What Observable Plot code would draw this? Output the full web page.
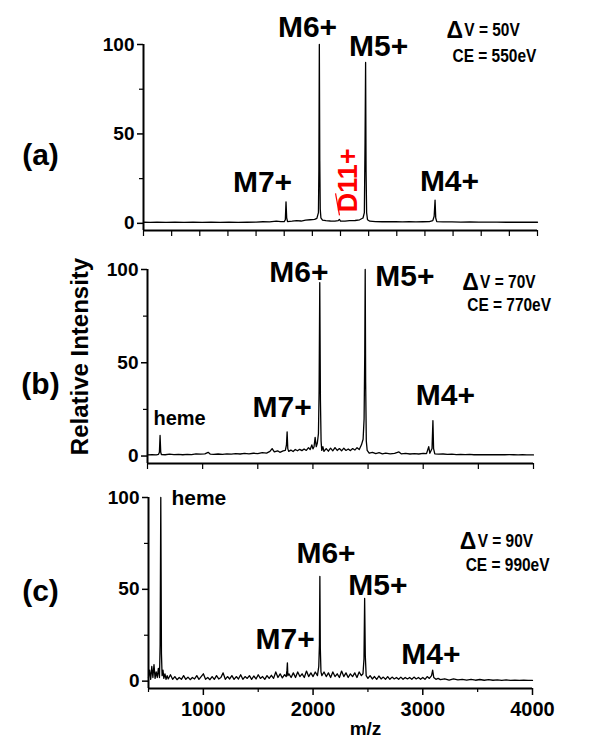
<!DOCTYPE html>
<html><head><meta charset="utf-8">
<script src="https://cdn.jsdelivr.net/npm/d3@7"></script>
<script src="https://cdn.jsdelivr.net/npm/@observablehq/plot@0.6"></script>
<style>
body{margin:0;background:#fff;}
#wrap{position:relative;width:600px;height:740px;overflow:hidden;background:#fff;}
</style></head><body><div id="wrap"></div>
<script>
// ---------- spectrum (a) ----------
const mzA=[500,560,620,700,780,860,940,1020,1100,1180,1260,1340,1420,1500,1560,1620,1680,1720,1750,1760,1766,1772,1780,1820,1860,1900,1940,1980,2020,2040,2054,2058,2062,2066,2070,2076,2090,2120,2160,2200,2230,2240,2250,2290,2330,2380,2420,2450,2462,2468,2473,2477,2482,2490,2510,2560,2620,2680,2740,2800,2860,2920,2980,3040,3070,3082,3090,3096,3105,3160,3240,3320,3400,3480,3560,3640,3720,3800,3880,3960,4000];
const intA=[0.6,0.5,0.7,0.5,0.6,0.5,0.7,0.5,0.6,0.5,0.7,0.5,0.6,0.7,0.9,0.8,1.2,1.0,1.0,2,12,3,1.0,1.2,1.5,1.3,1.8,2.0,2.2,2.8,6,30,100,35,8,3,1.8,1.5,1.3,1.2,1.5,2.2,1.3,1.2,1.5,1.6,2.0,3,6,45,90,30,6,2,1.2,1.0,0.9,0.9,0.9,0.8,0.9,0.8,0.9,1.0,1.5,4,13,3,1.0,0.8,0.8,0.7,0.8,0.7,0.7,0.7,0.6,0.6,0.6,0.6,0.6];
// ---------- spectrum (b) ----------
const mzB=[500,540,580,600,608,614,620,626,660,700,740,780,820,860,900,940,980,1020,1050,1070,1100,1140,1180,1220,1260,1300,1340,1380,1420,1460,1500,1540,1580,1610,1630,1650,1680,1700,1730,1750,1760,1766,1772,1780,1800,1820,1840,1860,1880,1900,1920,1940,1960,1975,1990,2000,2010,2020,2030,2040,2050,2056,2062,2068,2074,2080,2090,2100,2120,2140,2160,2180,2200,2220,2240,2260,2280,2300,2320,2340,2360,2380,2400,2420,2440,2455,2464,2470,2474,2478,2484,2492,2510,2540,2570,2600,2630,2660,2700,2740,2780,2800,2840,2880,2920,2960,3000,3030,3050,3060,3080,3088,3094,3105,3140,3180,3220,3260,3300,3340,3380,3420,3460,3500,3540,3580,3620,3660,3700,3740,3780,3820,3860,3900,3940,3980,4000];
const intB=[0.6,0.8,0.6,0.9,2,11,2,0.8,0.7,1.0,0.8,0.9,0.7,0.9,0.8,1.2,1.0,1.2,2.0,1.0,0.9,1.1,0.9,1.2,1.0,1.3,1.1,1.4,1.2,1.5,1.3,1.8,1.6,2.5,4,2.2,2.8,2.0,2.8,3,6,13,4,2.5,3.2,2.4,3.5,2.8,3.6,2.9,3.8,3.0,4.5,3.5,6,3.8,5,10,5,7,12,35,93,30,8,3,5,2.5,4,2.6,4.2,2.8,4.5,3.0,4.0,2.8,4.2,3.0,3.8,2.9,4.0,3.2,4.5,3.5,6,9,20,55,100,40,8,3,1.5,2.0,1.3,1.8,1.2,1.6,1.2,1.4,2.2,1.2,1.4,1.1,1.3,1.1,1.4,1.3,5,1.5,4,19,4,1.2,1.0,1.1,0.9,1.0,0.8,0.9,0.8,0.9,0.7,0.8,0.7,0.8,0.7,0.8,0.7,0.7,0.8,0.7,0.6,0.7,0.6,0.6,0.6];
// ---------- spectrum (c) ----------
const mzC=[500,510,520,530,540,550,560,570,580,590,600,606,612,618,624,632,640,650,660,670,680,700,720,740,760,780,800,820,840,860,880,900,920,940,960,980,1000,1020,1040,1060,1080,1100,1120,1140,1160,1180,1200,1220,1240,1260,1280,1300,1320,1340,1360,1380,1400,1420,1440,1460,1480,1500,1520,1540,1560,1580,1600,1620,1640,1660,1680,1700,1720,1740,1755,1762,1766,1770,1780,1800,1820,1840,1860,1880,1900,1920,1940,1960,1980,2000,2020,2040,2052,2058,2062,2066,2072,2080,2100,2120,2140,2160,2180,2200,2220,2240,2260,2280,2300,2320,2340,2360,2380,2400,2420,2440,2455,2464,2470,2476,2484,2500,2520,2540,2560,2580,2600,2620,2640,2660,2680,2700,2720,2740,2760,2780,2800,2820,2840,2860,2880,2900,2920,2940,2960,2980,3000,3020,3040,3060,3080,3090,3100,3120,3140,3160,3200,3240,3280,3320,3360,3400,3440,3480,3520,3560,3600,3640,3680,3720,3760,3800,3840,3880,3920,3960,4000];
const intC=[2,6,1,8,2,9,1.5,5,2,7,2,20,100,15,3,6,1.5,4,1,3,1.2,3.5,1,2.5,0.8,2,1,3,1,2.2,0.8,2,1.2,3,1,2.5,4,1,2,0.8,2.5,1,3,1.2,2,4.5,1,2.5,1.2,3,1,2.5,1.2,3.5,1,2.5,1.5,3,1,2.8,1.2,3.5,1.5,2.5,1,3,1.5,3.2,1.5,5,2,4,1.8,3.5,2.5,6,10,3,4,2,4.5,2,5,2.5,4,2,5.5,2.5,4.5,2.5,5,3,8,20,57,18,5,3,5,2.5,4.5,2,5,2.5,4,2,5.5,2.5,4.5,2,4,2.5,4.5,2,5,3,4,12,45,14,3,1.5,3,1.2,2.5,1,2.8,1.2,2.2,1,2.5,1,2.2,1.2,2,1,2.2,1,2,1.2,2,1,2.2,1.2,2,1,2,1,2.5,1.5,3,6,2,1,1.5,0.8,1.3,0.6,1.2,0.7,1,0.6,1,0.5,0.9,0.5,0.8,0.5,0.7,0.4,0.7,0.4,0.6,0.4,0.5,0.4,0.4];

// ---------- axis ticks ----------
const yTicks=[0,50,100];
const yMinor=[25,75];
const xTicksA=[500,750,1000,1250,1500,1750,2000,2250,2500,2750,3000,3250,3500,3750,4000];
const xTicksB=[500,1000,1500,2000,2500,3000,3500,4000];
const xTicksC=[1000,2000,3000,4000];
const xMinorC=[500,1500,2500,3500];

// ---------- annotations ----------
const peakLab=["M6+","M5+","M7+","M4+"];
const peakXA=[1957,2588,1557,3218], peakYA=[109.5,98.9,22.8,23.4];
const peakXB=[1873,2833,1720,3201], peakYB=[98.4,96.2,26,32.5];
const peakXC=[2118,2591,1745,3073], peakYC=[69.5,52,22.7,14.5];
const deltaSym=["Δ"];
const condA=["V = 50V","CE = 550eV"], condXA=[3350,3245], condYA=[107.8,93.3], deltaXA=[3192];
const condB=["V = 70V","CE = 770eV"], condXB=[3516,3399], condYB=[93,80.7], deltaXB=[3354];
const condC=["V = 90V","CE = 990eV"], condXC=[3500,3391], condYC=[76,63], deltaXC=[3336];
const hemeXB=[554], hemeYB=[20.1];
const hemeXC=[709], hemeYC=[99.5];
const dimerLab=["D11+"], dimerX=[2318], dimerY=[24];
const dimerLinkX1=[2206], dimerLinkY1=[16.7], dimerLinkX2=[2241], dimerLinkY2=[4.4];

const F="'Liberation Sans', Arial, Helvetica, sans-serif";

function panel(o){
  const marks=[
    Plot.line(o.inten,{x:o.mz,y:o.inten,stroke:"#000",strokeWidth:1.3}),
    Plot.ruleY([-4],{stroke:"#000",strokeWidth:2}),
    Plot.ruleX([500],{y1:-4,y2:100,stroke:"#000",strokeWidth:2}),
    Plot.axisY(yTicks,{tickSize:6,tickPadding:3,strokeWidth:1.5,fontSize:19,fontWeight:"bold",fontFamily:F,label:null,tickFormat:d=>String(d)}),
    Plot.axisY(yMinor,{tickSize:4,strokeWidth:1.2,tickFormat:()=>"",label:null}),
    Plot.text(peakLab,{x:o.px,y:o.py,text:d=>d,fontSize:30,fontWeight:"bold",fontFamily:F,fill:"#000"}),
    Plot.text(o.cond,{x:o.cx,y:o.cy,text:d=>d,fontSize:18,fontWeight:"bold",fontFamily:F,textAnchor:"start",fill:"#000"}),
    Plot.text(deltaSym,{x:o.dx,y:[o.cy[0]],text:d=>d,fontSize:23,fontWeight:"bold",fontFamily:F,textAnchor:"start",fill:"#000"}),
    Plot.text([o.tag],{frameAnchor:"left",textAnchor:"middle",lineAnchor:"middle",dx:o.tagDx,dy:o.tagDy,text:d=>d,fontSize:30,fontWeight:"bold",fontFamily:F,fill:"#000"})
  ];
  if(o.showX){
    marks.push(Plot.axisX(xTicksC,{tickSize:7,tickPadding:6,strokeWidth:1.5,fontSize:20,fontWeight:"bold",fontFamily:F,label:null,tickFormat:d=>String(d)}));
    marks.push(Plot.axisX(xMinorC,{tickSize:4,strokeWidth:1.2,tickFormat:()=>"",label:null}));
  } else {
    marks.push(Plot.axisX(o.xticks,{tickSize:6,strokeWidth:1.2,tickFormat:()=>"",label:null}));
  }
  if(o.extra) marks.push(...o.extra);
  const svg=Plot.plot({
    width:600,height:o.height,
    marginLeft:o.ml,marginRight:o.mr,marginTop:o.mt,marginBottom:o.mb,
    x:{domain:[500,4000]},
    y:{domain:[-4,100]},
    style:{position:"absolute",left:"0px",top:o.top+"px",background:"transparent",overflow:"visible",fontFamily:F},
    marks
  });
  // condition labels are set in a condensed face in the reference: compress horizontally
  svg.querySelectorAll("text").forEach(t=>{
    if(/^(V =|CE)/.test(t.textContent)){
      const tr=t.getAttribute("transform")||"";
      t.setAttribute("transform",tr+" scale(0.86,1)");
    }
  });
  return svg;
}

const wrap=document.getElementById("wrap");

wrap.appendChild(panel({
  mz:mzA,inten:intA,top:0,height:240,ml:143,mr:63,mt:44,mb:10,
  px:peakXA,py:peakYA,cond:condA,cx:condXA,cy:condYA,dx:deltaXA,
  tag:"(a)",tagDx:-103,tagDy:18,xticks:xTicksA,showX:false,
  extra:[
    Plot.link([0],{x1:dimerLinkX1,y1:dimerLinkY1,x2:dimerLinkX2,y2:dimerLinkY2,stroke:"red",strokeWidth:1.2}),
    Plot.text(dimerLab,{x:dimerX,y:dimerY,text:d=>d,rotate:-90,fontSize:27,fontWeight:"bold",fontFamily:F,fill:"red"})
  ]
}));

wrap.appendChild(panel({
  mz:mzB,inten:intB,top:240,height:235,ml:147,mr:67,mt:29,mb:12,
  px:peakXB,py:peakYB,cond:condB,cx:condXB,cy:condYB,dx:deltaXB,
  tag:"(b)",tagDx:-107,tagDy:18,xticks:xTicksB,showX:false,
  extra:[
    Plot.text(["heme"],{x:hemeXB,y:hemeYB,text:d=>d,textAnchor:"start",fontSize:20,fontWeight:"bold",fontFamily:F,fill:"#000"}),
    Plot.text(["Relative Intensity"],{frameAnchor:"left",textAnchor:"middle",lineAnchor:"middle",dx:-67,dy:-10,rotate:-90,text:d=>d,fontSize:24,fontWeight:"bold",fontFamily:F,fill:"#000"})
  ]
}));

wrap.appendChild(panel({
  mz:mzC,inten:intC,top:480,height:260,ml:148,mr:68,mt:17,mb:52,
  px:peakXC,py:peakYC,cond:condC,cx:condXC,cy:condYC,dx:deltaXC,
  tag:"(c)",tagDx:-108,tagDy:-2,showX:true,
  extra:[
    Plot.text(["heme"],{x:hemeXC,y:hemeYC,text:d=>d,textAnchor:"start",fontSize:21,fontWeight:"bold",fontFamily:F,fill:"#000"}),
    Plot.text(["m/z"],{frameAnchor:"bottom",textAnchor:"middle",lineAnchor:"middle",dx:25,dy:40,text:d=>d,fontSize:19,fontWeight:"bold",fontFamily:F,fill:"#000"})
  ]
}));
</script></body></html>
